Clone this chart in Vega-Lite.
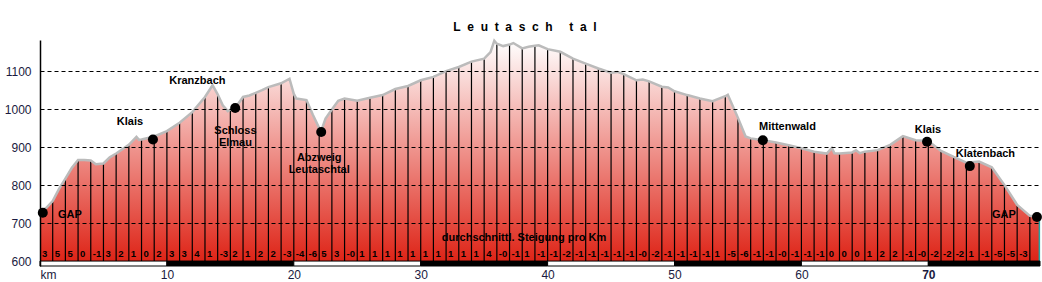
{
  "$schema": "https://vega.github.io/schema/vega-lite/v6.json",
  "width": 1000,
  "height": 226,
  "autosize": "none",
  "padding": {"left": 40, "top": 40, "right": 2, "bottom": 16},
  "background": "white",
  "config": {"view": {"stroke": null}, "font": "Liberation Sans"},
  "title": {
    "text": "L\u00a0\u00a0e\u00a0\u00a0u\u00a0\u00a0t\u00a0\u00a0a\u00a0\u00a0s\u00a0\u00a0c\u00a0\u00a0h\u00a0\u00a0\u00a0\u00a0\u00a0t\u00a0\u00a0a\u00a0\u00a0l",
    "font": "Liberation Sans",
    "fontSize": 12,
    "fontWeight": "bold",
    "color": "black",
    "anchor": "middle",
    "dx": -15,
    "dy": 17,
    "offset": 10,
    "baseline": "alphabetic"
  },
  "datasets": {
    "profile": [
      {"km": 0, "elev": 729}, {"km": 0.5, "elev": 740}, {"km": 1, "elev": 758}, {"km": 1.5, "elev": 790},
      {"km": 2, "elev": 817}, {"km": 2.5, "elev": 845}, {"km": 3, "elev": 866}, {"km": 3.5, "elev": 866},
      {"km": 4, "elev": 865}, {"km": 4.4, "elev": 855}, {"km": 5, "elev": 857}, {"km": 5.5, "elev": 873},
      {"km": 6, "elev": 883}, {"km": 7, "elev": 906}, {"km": 7.6, "elev": 927}, {"km": 7.8, "elev": 919},
      {"km": 8, "elev": 920}, {"km": 9, "elev": 928}, {"km": 10, "elev": 942}, {"km": 11, "elev": 964},
      {"km": 12, "elev": 992}, {"km": 13, "elev": 1032}, {"km": 13.6, "elev": 1063}, {"km": 14, "elev": 1039},
      {"km": 14.4, "elev": 1010}, {"km": 14.8, "elev": 995}, {"km": 15, "elev": 999}, {"km": 15.4, "elev": 1004},
      {"km": 16, "elev": 1032}, {"km": 16.5, "elev": 1036}, {"km": 17, "elev": 1043}, {"km": 17.5, "elev": 1050},
      {"km": 18, "elev": 1058}, {"km": 19, "elev": 1068}, {"km": 19.66, "elev": 1080}, {"km": 20, "elev": 1040},
      {"km": 20.2, "elev": 1028}, {"km": 21, "elev": 1024}, {"km": 21.5, "elev": 985}, {"km": 22, "elev": 950},
      {"km": 22.15, "elev": 942}, {"km": 22.5, "elev": 975}, {"km": 23, "elev": 999}, {"km": 23.5, "elev": 1022},
      {"km": 24, "elev": 1028}, {"km": 25, "elev": 1022}, {"km": 26, "elev": 1030}, {"km": 27, "elev": 1037},
      {"km": 28, "elev": 1053}, {"km": 29, "elev": 1061}, {"km": 30, "elev": 1076}, {"km": 31, "elev": 1085},
      {"km": 32, "elev": 1100}, {"km": 33, "elev": 1111}, {"km": 34, "elev": 1125}, {"km": 35, "elev": 1133},
      {"km": 35.5, "elev": 1150}, {"km": 35.8, "elev": 1180}, {"km": 36, "elev": 1172}, {"km": 36.5, "elev": 1166},
      {"km": 37, "elev": 1170}, {"km": 37.3, "elev": 1174}, {"km": 38, "elev": 1160}, {"km": 38.5, "elev": 1164},
      {"km": 39, "elev": 1167}, {"km": 39.3, "elev": 1168}, {"km": 40, "elev": 1158}, {"km": 41, "elev": 1151},
      {"km": 42, "elev": 1133}, {"km": 43, "elev": 1120}, {"km": 44, "elev": 1107}, {"km": 45, "elev": 1096},
      {"km": 45.5, "elev": 1098}, {"km": 46, "elev": 1092}, {"km": 47, "elev": 1076}, {"km": 47.5, "elev": 1078},
      {"km": 48, "elev": 1073}, {"km": 49, "elev": 1059}, {"km": 49.5, "elev": 1057}, {"km": 50, "elev": 1047},
      {"km": 51, "elev": 1037}, {"km": 52, "elev": 1028}, {"km": 53, "elev": 1021}, {"km": 54, "elev": 1034},
      {"km": 54.2, "elev": 1038}, {"km": 55, "elev": 977}, {"km": 55.6, "elev": 928}, {"km": 56, "elev": 923},
      {"km": 57, "elev": 918}, {"km": 58, "elev": 912}, {"km": 59, "elev": 905}, {"km": 60, "elev": 897},
      {"km": 61, "elev": 888}, {"km": 62, "elev": 883}, {"km": 62.4, "elev": 898}, {"km": 62.6, "elev": 884},
      {"km": 63, "elev": 883}, {"km": 64, "elev": 886}, {"km": 64.3, "elev": 892}, {"km": 64.6, "elev": 884},
      {"km": 65, "elev": 888}, {"km": 66, "elev": 892}, {"km": 67, "elev": 906}, {"km": 68, "elev": 929},
      {"km": 69, "elev": 918}, {"km": 70, "elev": 916}, {"km": 71, "elev": 890}, {"km": 72, "elev": 874},
      {"km": 73, "elev": 859}, {"km": 74, "elev": 862}, {"km": 75, "elev": 847}, {"km": 76, "elev": 800},
      {"km": 77, "elev": 748}, {"km": 78, "elev": 719}, {"km": 78.75, "elev": 716}
    ],
    "steig": [
      {"km": 0, "g": "3"}, {"km": 1, "g": "5"}, {"km": 2, "g": "5"}, {"km": 3, "g": "0"}, {"km": 4, "g": "-1"},
      {"km": 5, "g": "3"}, {"km": 6, "g": "2"}, {"km": 7, "g": "1"}, {"km": 8, "g": "0"}, {"km": 9, "g": "2"},
      {"km": 10, "g": "3"}, {"km": 11, "g": "3"}, {"km": 12, "g": "4"}, {"km": 13, "g": "1"}, {"km": 14, "g": "-3"},
      {"km": 15, "g": "2"}, {"km": 16, "g": "1"}, {"km": 17, "g": "2"}, {"km": 18, "g": "2"}, {"km": 19, "g": "-3"},
      {"km": 20, "g": "-4"}, {"km": 21, "g": "-6"}, {"km": 22, "g": "5"}, {"km": 23, "g": "3"}, {"km": 24, "g": "-0"},
      {"km": 25, "g": "1"}, {"km": 26, "g": "1"}, {"km": 27, "g": "1"}, {"km": 28, "g": "1"}, {"km": 29, "g": "1"},
      {"km": 30, "g": "1"}, {"km": 31, "g": "1"}, {"km": 32, "g": "1"}, {"km": 33, "g": "1"}, {"km": 34, "g": "1"},
      {"km": 35, "g": "4"}, {"km": 36, "g": "-0"}, {"km": 37, "g": "-1"}, {"km": 38, "g": "1"}, {"km": 39, "g": "-1"},
      {"km": 40, "g": "-1"}, {"km": 41, "g": "-2"}, {"km": 42, "g": "-1"}, {"km": 43, "g": "-1"}, {"km": 44, "g": "-1"},
      {"km": 45, "g": "-1"}, {"km": 46, "g": "-1"}, {"km": 47, "g": "-0"}, {"km": 48, "g": "-2"}, {"km": 49, "g": "-1"},
      {"km": 50, "g": "-1"}, {"km": 51, "g": "-1"}, {"km": 52, "g": "-1"}, {"km": 53, "g": "1"}, {"km": 54, "g": "-5"},
      {"km": 55, "g": "-6"}, {"km": 56, "g": "-1"}, {"km": 57, "g": "-1"}, {"km": 58, "g": "-0"}, {"km": 59, "g": "-1"},
      {"km": 60, "g": "-1"}, {"km": 61, "g": "-1"}, {"km": 62, "g": "0"}, {"km": 63, "g": "0"}, {"km": 64, "g": "0"},
      {"km": 65, "g": "1"}, {"km": 66, "g": "2"}, {"km": 67, "g": "2"}, {"km": 68, "g": "-1"}, {"km": 69, "g": "-0"},
      {"km": 70, "g": "-2"}, {"km": 71, "g": "-2"}, {"km": 72, "g": "-2"}, {"km": 73, "g": "1"}, {"km": 74, "g": "-1"},
      {"km": 75, "g": "-5"}, {"km": 76, "g": "-5"}, {"km": 77, "g": "-3"}
    ],
    "places": [
      {"km": 0.22, "elev": 727}, {"km": 8.9, "elev": 920}, {"km": 15.38, "elev": 1003}, {"km": 22.16, "elev": 940},
      {"km": 56.96, "elev": 918}, {"km": 69.9, "elev": 914}, {"km": 73.27, "elev": 850}, {"km": 78.56, "elev": 716}
    ],
    "labels": [
      {"km": 2.36, "elev": 721, "t": "GAP"},
      {"km": 7.09, "elev": 966, "t": "Klais"},
      {"km": 12.4, "elev": 1074, "t": "Kranzbach"},
      {"km": 15.4, "elev": 942, "t": "Schloss\nElmau"},
      {"km": 22.0, "elev": 871, "t": "Abzweig\nLeutaschtal"},
      {"km": 58.9, "elev": 953, "t": "Mittenwald"},
      {"km": 69.97, "elev": 946, "t": "Klais"},
      {"km": 74.5, "elev": 881, "t": "Klatenbach"},
      {"km": 75.96, "elev": 721, "t": "GAP"},
      {"km": 38.14, "elev": 660, "t": "durchschnittl. Steigung pro Km"}
    ],
    "bar": [
      {"km": 0, "km2": 10, "seg": "light"}, {"km": 10, "km2": 20, "seg": "dark"},
      {"km": 20, "km2": 30, "seg": "light"}, {"km": 30, "km2": 40, "seg": "dark"},
      {"km": 40, "km2": 50, "seg": "light"}, {"km": 50, "km2": 60, "seg": "dark"},
      {"km": 60, "km2": 70, "seg": "light"}, {"km": 70, "km2": 78.8, "seg": "dark"}
    ]
  },
  "encoding": {
    "x": {"field": "km", "type": "quantitative", "scale": {"domain": [0, 78.8], "nice": false, "zero": false}}
  },
  "layer": [
    {
      "data": {"name": "profile"},
      "mark": {
        "type": "area",
        "fill": {
          "gradient": "linear", "x1": 0, "y1": 0, "x2": 0, "y2": 1,
          "stops": [{"offset": 0, "color": "#ffffff"}, {"offset": 1, "color": "#de2417"}]
        }
      },
      "encoding": {
        "x": {
          "field": "km", "type": "quantitative",
          "scale": {"domain": [0, 78.8], "nice": false, "zero": false},
          "axis": {
            "values": [0, 10, 20, 30, 40, 50, 60, 70],
            "labelExpr": "datum.value == 0 ? 'km' : datum.label",
            "domain": false, "ticks": false, "grid": false,
            "labelPadding": 3, "labelFontSize": 12, "labelColor": "#1a1a40",
            "labelFont": "Liberation Sans", "labelFlush": true,
            "labelFontWeight": {"condition": {"test": "datum.value == 70", "value": "bold"}, "value": "normal"},
            "title": null
          }
        },
        "y": {
          "field": "elev", "type": "quantitative",
          "scale": {"domain": [587, 1182], "nice": false, "zero": false},
          "axis": {
            "values": [600, 700, 800, 900, 1000, 1100],
            "format": "d",
            "grid": true, "gridDash": [4, 3], "gridColor": "black", "gridWidth": 1,
            "gridOpacity": {"condition": {"test": "datum.value <= 600", "value": 0}, "value": 1},
            "ticks": false, "domainColor": "black", "domainWidth": 1.5,
            "labelPadding": 9, "labelFontSize": 12, "labelColor": "#1a1a40", "labelFont": "Liberation Sans",
            "title": null, "zindex": 1
          }
        },
        "y2": {"datum": 600}
      }
    },
    {
      "data": {"name": "profile"},
      "transform": [{"filter": "datum.km % 1 == 0 && datum.km > 0"}],
      "mark": {"type": "rule", "color": "black", "strokeWidth": 1.2},
      "encoding": {
        "y": {"field": "elev", "type": "quantitative", "scale": {"domain": [587, 1182], "nice": false, "zero": false}},
        "y2": {"datum": 600}
      }
    },
    {
      "data": {"name": "profile"},
      "transform": [{"filter": "datum.km > 78.5"}],
      "mark": {"type": "rule", "color": "#1fa3a3", "strokeWidth": 1.5},
      "encoding": {
        "y": {"field": "elev", "type": "quantitative", "scale": {"domain": [587, 1182], "nice": false, "zero": false}},
        "y2": {"datum": 600}
      }
    },
    {
      "data": {"name": "profile"},
      "mark": {"type": "line", "color": "#bbbbbb", "strokeWidth": 2.5},
      "encoding": {
        "y": {"field": "elev", "type": "quantitative", "scale": {"domain": [587, 1182], "nice": false, "zero": false}}
      }
    },
    {
      "data": {"name": "bar"},
      "mark": {"type": "rect", "stroke": "black", "strokeWidth": 1},
      "encoding": {
        "x2": {"field": "km2"},
        "y": {"datum": 587, "type": "quantitative"},
        "y2": {"datum": 600},
        "fill": {"field": "seg", "type": "nominal", "scale": {"domain": ["light", "dark"], "range": ["#ffffff", "#000000"]}, "legend": null}
      }
    },
    {
      "data": {"name": "steig"},
      "mark": {"type": "text", "align": "left", "baseline": "middle", "dx": 2, "fontSize": 9.5, "fontWeight": "bold", "color": "black", "font": "Liberation Sans"},
      "encoding": {
        "y": {"datum": 618, "type": "quantitative"},
        "text": {"field": "g", "type": "nominal"}
      }
    },
    {
      "data": {"name": "places"},
      "mark": {"type": "circle", "size": 100, "color": "black", "opacity": 1},
      "encoding": {
        "y": {"field": "elev", "type": "quantitative", "scale": {"domain": [587, 1182], "nice": false, "zero": false}}
      }
    },
    {
      "data": {"name": "labels"},
      "mark": {"type": "text", "align": "center", "baseline": "middle", "fontSize": 11, "fontWeight": "bold", "color": "black", "lineBreak": "\n", "lineHeight": 12, "font": "Liberation Sans"},
      "encoding": {
        "y": {"field": "elev", "type": "quantitative", "scale": {"domain": [587, 1182], "nice": false, "zero": false}},
        "text": {"field": "t", "type": "nominal"}
      }
    }
  ]
}
